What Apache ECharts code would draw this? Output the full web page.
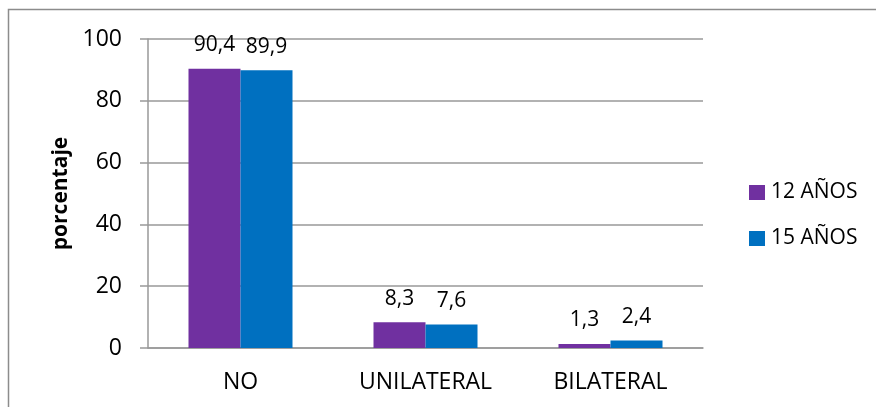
<!DOCTYPE html>
<html>
<head>
<meta charset="utf-8">
<style>
  html, body { margin: 0; padding: 0; background: #fff; }
  #chart { width: 876px; height: 407px; }
</style>
<script src="https://cdn.jsdelivr.net/npm/echarts@6/dist/echarts.min.js"></script>
</head>
<body>
<div id="chart"></div>
<script>
// Categories and series values
const categories = ['NO', 'UNILATERAL', 'BILATERAL'];
const seriesNames = ['12 AÑOS', '15 AÑOS'];
const values12 = [90.4, 8.3, 1.3];
const values15 = [89.9, 7.6, 2.4];
const yTicks = { min: 0, max: 100, interval: 20 };

const font = '"Open Sans", "Liberation Sans", sans-serif';
const colors = ['#7030A0', '#0070C0'];

const chart = echarts.init(document.getElementById('chart'), null, { renderer: 'canvas' });

const labelCfg = {
  show: true,
  position: 'top',
  distance: 13,
  color: '#000',
  fontFamily: font,
  fontSize: 21,
  formatter: p => String(p.value).replace('.', ',')
};

chart.setOption({
  animation: false,
  backgroundColor: '#fff',
  graphic: [{
    type: 'rect',
    shape: { x: 8.5, y: 9.5, width: 900, height: 500 },
    style: { fill: 'none', stroke: '#8c8c8c', lineWidth: 1.5 },
    silent: true
  }],
  grid: { left: 148, right: 173, top: 39, bottom: 59 },
  legend: {
    orient: 'vertical',
    left: 744,
    top: 177,
    itemWidth: 16,
    itemHeight: 15,
    itemGap: 25,
    icon: 'rect',
    textStyle: { fontFamily: font, fontSize: 21, color: '#000', padding: [0, 0, 0, 1] },
    data: seriesNames
  },
  xAxis: {
    type: 'category',
    data: categories,
    axisLine: { lineStyle: { color: '#999', width: 1.5 } },
    axisTick: { show: false },
    axisLabel: { color: '#000', fontFamily: font, fontSize: 23, margin: 23 }
  },
  yAxis: {
    type: 'value',
    min: yTicks.min,
    max: yTicks.max,
    interval: yTicks.interval,
    name: 'porcentaje',
    nameLocation: 'middle',
    nameGap: 76,
    nameTextStyle: { fontFamily: font, fontSize: 21, fontWeight: 'bold', color: '#000' },
    axisLine: { show: true, lineStyle: { color: '#999', width: 1.5 } },
    axisTick: { show: true, length: 8, lineStyle: { color: '#999', width: 1.5 } },
    axisLabel: { color: '#000', fontFamily: font, fontSize: 23, margin: 26 },
    splitLine: { lineStyle: { color: '#999', width: 1.5 } }
  },
  series: [
    {
      name: seriesNames[0],
      type: 'bar',
      data: values12,
      barWidth: 52,
      barGap: '0%',
      itemStyle: { color: colors[0] },
      label: labelCfg
    },
    {
      name: seriesNames[1],
      type: 'bar',
      data: values15,
      barWidth: 52,
      itemStyle: { color: colors[1] },
      label: labelCfg
    }
  ]
});
</script>
</body>
</html>
